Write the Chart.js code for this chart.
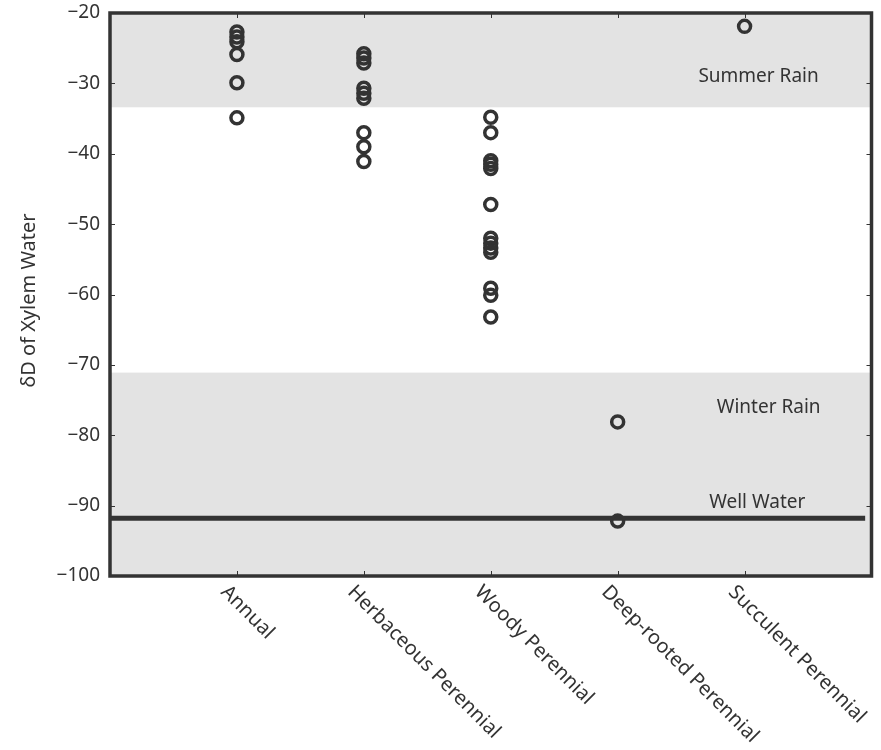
<!DOCTYPE html>
<html>
<head>
<meta charset="utf-8">
<script src="https://cdn.jsdelivr.net/npm/chart.js@4/dist/chart.umd.min.js"></script>
<style>
html,body{margin:0;padding:0;background:#fff;}
#wrap{width:881px;height:750px;}
</style>
</head>
<body>
<div id="wrap"><canvas id="c" width="881" height="750"></canvas></div>
<script>
// ---- data ----
const categories = ["Annual", "Herbaceous Perennial", "Woody Perennial", "Deep-rooted Perennial", "Succulent Perennial"];
const annual = [-22.7, -23.4, -24.1, -25.9, -29.9, -34.9];
const herbaceous = [-25.8, -26.4, -27.1, -30.7, -31.4, -32.1, -37.0, -39.0, -41.1];
const woody = [-34.8, -37.0, -41.0, -41.5, -42.1, -47.2, -52.0, -52.7, -53.4, -54.0, -59.1, -60.1, -63.2];
const deepRooted = [-78.1, -92.2];
const succulent = [-21.9];
const yTicks = [-100, -90, -80, -70, -60, -50, -40, -30, -20];
const bandNames = ["Summer Rain", "Winter Rain"];
const bandTop = [-20, -71.1];
const bandBottom = [-33.4, -100];
const wellWater = -91.8;
const annotationText = ["Summer Rain", "Winter Rain", "Well Water"];
const annotationX = [5.11, 5.19, 5.1];
const annotationY = [-29.0, -76.1, -89.6];
const yTitle = "δD of Xylem Water";

const groups = [annual, herbaceous, woody, deepRooted, succulent];
const points = [];
groups.forEach((vals, i) => vals.forEach(v => points.push({x: i + 1, y: v})));

const INK = '#333333';
const FONT = '"Noto Sans", "Open Sans", sans-serif';

const decor = {
  id: 'decor',
  beforeDatasetsDraw(chart) {
    const {ctx, chartArea: a, scales: {x, y}} = chart;
    ctx.save();
    ctx.fillStyle = '#e3e3e3';
    for (let i = 0; i < bandTop.length; i++) {
      const t = y.getPixelForValue(bandTop[i]);
      const b = y.getPixelForValue(bandBottom[i]);
      ctx.fillRect(a.left, t, a.right - a.left, b - t);
    }
    // annotations
    ctx.fillStyle = INK;
    ctx.font = '19px ' + FONT;
    ctx.textAlign = 'center';
    ctx.textBaseline = 'middle';
    for (let i = 0; i < annotationText.length; i++) {
      ctx.fillText(annotationText[i], x.getPixelForValue(annotationX[i]), y.getPixelForValue(annotationY[i]));
    }
    ctx.restore();
  },
  afterDraw(chart) {
    const {ctx, chartArea: a, scales: {x, y}} = chart;
    ctx.save();
    // inward ticks
    ctx.strokeStyle = INK;
    ctx.lineWidth = 1;
    ctx.beginPath();
    yTicks.forEach(v => {
      const py = Math.round(y.getPixelForValue(v)) + 0.5;
      ctx.moveTo(a.left, py); ctx.lineTo(a.left + 5, py);
      ctx.moveTo(a.right, py); ctx.lineTo(a.right - 5, py);
    });
    categories.forEach((c, i) => {
      const px = Math.round(x.getPixelForValue(i + 1)) + 0.5;
      ctx.moveTo(px, a.top); ctx.lineTo(px, a.top + 5);
      ctx.moveTo(px, a.bottom); ctx.lineTo(px, a.bottom - 5);
    });
    ctx.stroke();
    // frame
    ctx.lineWidth = 3.5;
    ctx.strokeRect(a.left, a.top, a.right - a.left, a.bottom - a.top);
    // x labels rotated
    ctx.fillStyle = INK;
    ctx.font = '20px ' + FONT;
    ctx.textAlign = 'left';
    ctx.textBaseline = 'middle';
    categories.forEach((c, i) => {
      const px = x.getPixelForValue(i + 1);
      ctx.save();
      ctx.translate(px - 13, a.bottom + 13);
      ctx.rotate(Math.PI / 4);
      ctx.fillText(c, 0, 0);
      ctx.restore();
    });
    // y title
    ctx.save();
    ctx.translate(29, (a.top + a.bottom) / 2 + 6);
    ctx.rotate(-Math.PI / 2);
    ctx.textAlign = 'center';
    ctx.fillText(yTitle, 0, 0);
    ctx.restore();
    ctx.restore();
  }
};

new Chart(document.getElementById('c'), {
  type: 'scatter',
  data: {
    datasets: [
      {
        data: points,
        pointStyle: 'circle',
        pointRadius: 6,
        pointHoverRadius: 6,
        pointBorderWidth: 3.5,
        borderColor: INK,
        backgroundColor: 'rgba(0,0,0,0)',
        order: 1
      },
      {
        type: 'line',
        data: [{x: 0, y: wellWater}, {x: 5.95, y: wellWater}],
        borderColor: INK,
        borderWidth: 5,
        pointRadius: 0,
        fill: false,
        order: 2
      }
    ]
  },
  options: {
    responsive: false,
    devicePixelRatio: 1,
    animation: false,
    layout: {padding: {top: 13, right: 4, bottom: 174, left: 0}},
    plugins: {legend: {display: false}, tooltip: {enabled: false}},
    scales: {
      x: {
        type: 'linear', min: 0, max: 6,
        ticks: {display: false},
        grid: {display: false, drawTicks: false},
        border: {display: false},
        afterFit(s) { s.height = 0; s.paddingLeft = 0; s.paddingRight = 0; }
      },
      y: {
        type: 'linear', min: -100, max: -20,
        afterBuildTicks(s) { s.ticks = yTicks.map(v => ({value: v})); },
        ticks: {
          color: INK,
          font: {size: 19, family: FONT},
          padding: 10,
          callback: v => String(v).replace('-', '\u2212')
        },
        grid: {display: false, drawTicks: false},
        border: {display: false},
        afterFit(s) { s.width = 110; s.paddingTop = 0; s.paddingBottom = 0; }
      }
    }
  },
  plugins: [decor]
});
</script>
</body>
</html>
